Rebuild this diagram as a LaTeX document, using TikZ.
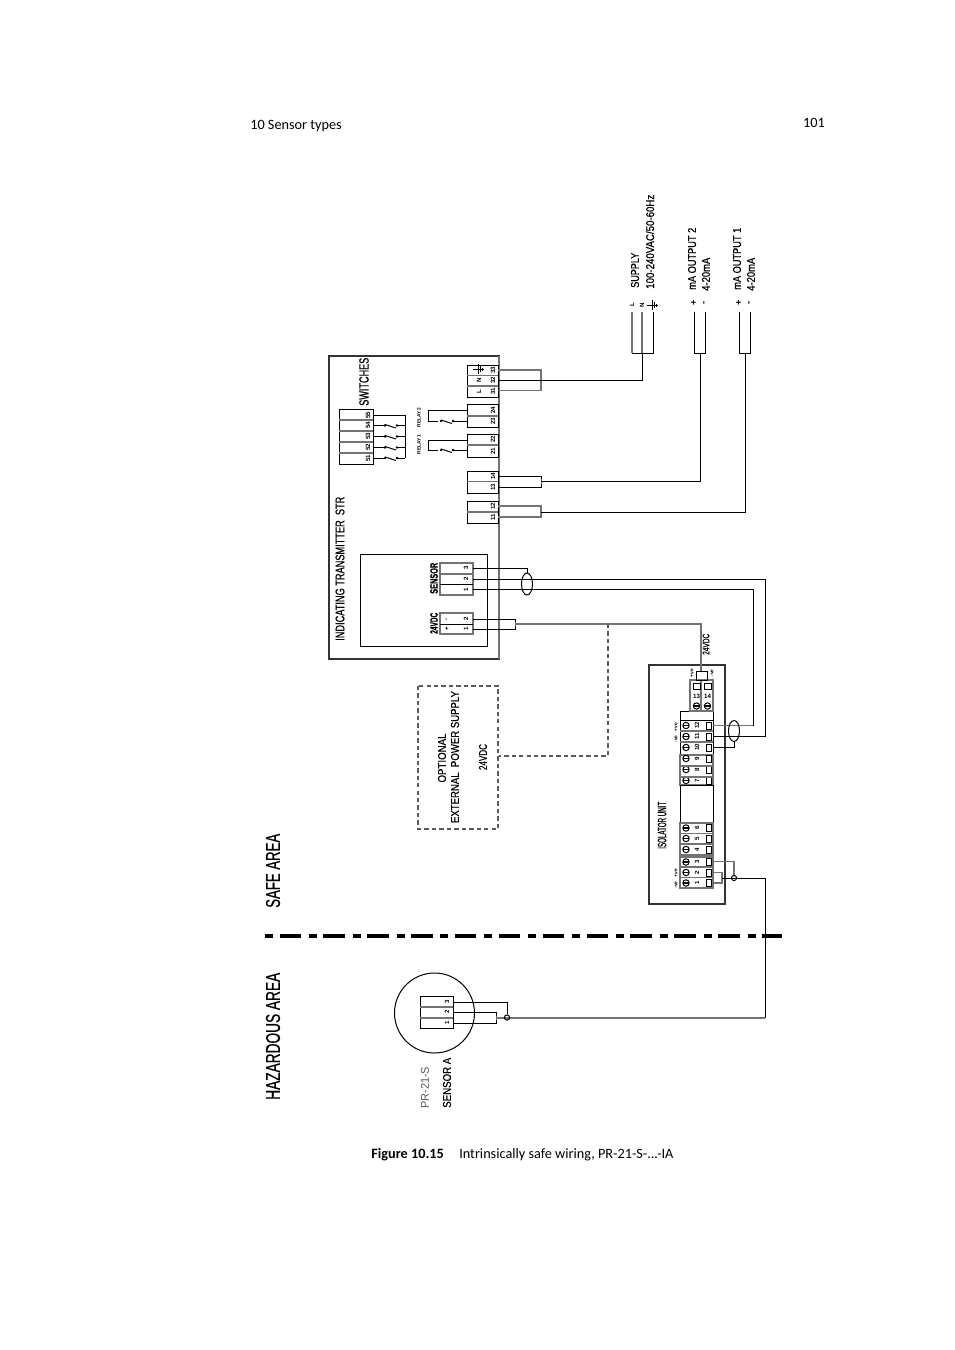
\documentclass[tikz,border=0pt]{standalone}
\usepackage{fontspec}
\usepackage{graphicx}
\setmainfont{Liberation Sans}
\newfontfamily\pagefont{Carlito}
\newfontfamily\dfont{Liberation Sans}[FakeBold=0.7]
\newlength\pxu \pxu=0.75pt
% text squeezed to a measured width in px: size(pt), width(px), text
\newcommand\fw[3]{\resizebox{#2\pxu}{\height}{\dfont\fontsize{#1}{#1}\selectfont #3}}
\tikzset{
  x=0.75pt,y=-0.75pt,
  wire/.style={line width=0.75pt,black},
  gwire/.style={line width=1.05pt,black!55},
  boxw/.style={line width=1pt,black!80},
  dashw/.style={line width=0.9pt,black!65,dash pattern=on 3.3pt off 2.3pt},
  zone/.style={line width=2.6pt,black,dash pattern=on 6pt off 4.9pt on 16.1pt off 5.9pt},
  rtxt/.style={rotate=90,anchor=west,inner sep=0pt,black},
  ctxt/.style={rotate=90,anchor=center,inner sep=0pt,black},
  tiny/.style={rotate=90,anchor=center,inner sep=0pt,font=\bfseries\fontsize{4.6}{5}\selectfont},
  page/.style={anchor=west,inner sep=0pt,font=\pagefont\fontsize{10.7}{12}\selectfont},
  dot/.style={circle,fill=black,inner sep=0pt,minimum size=2.8pt}
}
\newcommand\earthsym[2]{%
  \draw[wire] (#1-6,#2) -- (#1+5,#2);
  \draw[wire] (#1-1,#2-5) -- (#1-1,#2+5);
  \draw[wire] (#1+1,#2-3) -- (#1+1,#2+3);
  \draw[wire] (#1+3,#2-1.5) -- (#1+3,#2+1.5);}
\newcommand\contact[2]{%
  \node[dot,minimum size=2.2pt] at (#1,#2) {};
  \node[dot,minimum size=2.2pt] at (#1+12,#2) {};
  \draw[wire] (#1,#2-1) -- (#1+11,#2+2.5);}
\begin{document}
\begin{tikzpicture}
\useasboundingbox[fill=white] (0,0) rectangle (954,1350);

% page furniture
\node[page] (hdr) at (250,126) {10 Sensor types};
\node[page,anchor=east] (pg) at (825,123) {101};
\node[page] (capA) at (371,1155) {\textbf{Figure 10.15}};
\node[page] (capB) at (459,1155) {Intrinsically safe wiring, PR-21-S-...-IA};

% zone separation
\draw[zone] (265,936) -- (782,936);
\node[rtxt] (safe) at (273,908) {\fw{15}{74}{SAFE AREA}};
\node[rtxt] (haz) at (273,1100) {\fw{15}{127}{HAZARDOUS AREA}};

% ---- indicating transmitter
\draw[boxw] (329,356) rectangle (499,659);
\draw[gwire] (499,356) -- (499,659);
\draw[wire] (360,554) rectangle (487,646);
\node[rtxt] (itx) at (340,641) {\fw{9.5}{144}{INDICATING TRANSMITTER\ \ STR}};
\node[rtxt] (swt) at (364,406) {\fw{10}{48}{SWITCHES}};

% switches block
\draw[wire] (339,409) rectangle (373,464);
\foreach \y in {420,431,442,453} \draw[gwire] (339,\y) -- (373,\y);
\foreach \n/\y in {55/415,54/425.5,53/436.5,52/447.5,51/458.5}
  \node[tiny] at (368,\y) {\n};
\draw[wire] (373,415) -- (405,415) -- (405,458);
\foreach \y in {425.5,436.5,447.5,458}{
  \draw[wire] (373,\y) -- (385,\y);
  \contact{385}{\y}
  \draw[wire] (397,\y) -- (405,\y);
}
\node[tiny,font=\bfseries\fontsize{3.6}{4}\selectfont] at (419,417.5) {RELAY 2};
\node[tiny,font=\bfseries\fontsize{3.6}{4}\selectfont] at (419,444.5) {RELAY 1};

% supply terminal
\draw[wire] (467,365) rectangle (498,397);
\foreach \y in {375.5,386} \draw[gwire] (467,\y) -- (498,\y);
\foreach \n/\y in {33/370,32/380.5,31/391.5} \node[tiny] at (493,\y) {\n};
\earthsym{479}{369}
\node[tiny] at (479,380.5) {N};
\node[tiny] at (479,391.5) {L};
\coordinate (t33) at (498,370);
\coordinate (t32) at (498,380.5);
\coordinate (t31) at (498,390.5);
\coordinate (lnk3) at (541,380.5);
\draw[gwire] (t33) -| (lnk3) |- (t31);

% relay terminals
\draw[wire] (467,404) rectangle (498,427);
\draw[gwire] (467,416) -- (498,416);
\node[tiny] at (493,410) {24};
\node[tiny] at (493,421.5) {23};
\draw[wire] (467,410) -- (428,410) -- (428,421) -- (438,421);
\contact{441}{421}
\draw[wire] (453,421) -- (467,421);
\draw[wire] (467,434) rectangle (498,457);
\draw[gwire] (467,445) -- (498,445);
\node[tiny] at (493,439.5) {22};
\node[tiny] at (493,451) {21};
\draw[wire] (467,440) -- (428,440) -- (428,450) -- (438,450);
\contact{441}{450}
\draw[wire] (453,450) -- (467,450);

% mA terminals
\draw[wire] (467,471) rectangle (498,493);
\draw[gwire] (467,481.5) -- (498,481.5);
\node[tiny] at (493,476) {14};
\node[tiny] at (493,487) {13};
\coordinate (t14) at (498,476);
\coordinate (t13) at (498,487);
\coordinate (lnk2) at (541,481.5);
\draw[wire] (t14) -| (lnk2) |- (t13);
\draw[wire] (467,501) rectangle (498,523);
\draw[gwire] (467,512) -- (498,512);
\node[tiny] at (493,506.5) {12};
\node[tiny] at (493,517.5) {11};
\coordinate (t12) at (498,506);
\coordinate (t11) at (498,517);
\coordinate (lnk1) at (541,512);
\draw[gwire] (t12) -| (lnk1) |- (t11);

% sensor terminal of transmitter
\draw[gwire] (440,563) rectangle (473,595);
\draw[gwire] (440,574) -- (473,574);
\draw[wire] (440,584) -- (473,584);
\foreach \n/\y in {3/568,2/579,1/589.5} \node[tiny] at (466,\y) {\n};
\node[rtxt] (sens) at (434,594) {\fw{8}{31}{\textbf{SENSOR}}};
\coordinate (s3) at (473,568);
\coordinate (s2) at (473,579);
\coordinate (s1) at (473,589);
\draw[gwire] (440,613) rectangle (473,634);
\draw[wire] (440,624) -- (473,624);
\node[tiny] at (466,619) {2};
\node[tiny] at (466,629) {1};
\node[tiny] at (447,619) {-};
\node[tiny] at (447,629) {+};
\node[rtxt] (v24) at (434,634) {\fw{8}{21}{\textbf{24VDC}}};
\coordinate (p2) at (473,619);
\coordinate (p1) at (473,629);
\coordinate (lnkp) at (515,624);
\draw[wire] (p2) -| (lnkp) |- (p1);

% optional supply
\draw[dashw] (418,686) rectangle (498,829);
\node[ctxt] (opt1) at (442,758) {\fw{8.5}{49}{OPTIONAL}};
\node[ctxt] (opt2) at (455,757) {\fw{8.5}{132}{EXTERNAL\ \ POWER SUPPLY}};
\node[ctxt] (opt3) at (483,757) {\fw{8.5}{26}{24VDC}};

% ---- outputs
\coordinate (sup) at (642,353);
\draw[gwire] (632,312) -- (632,353);
\draw[gwire] (642,312) -- (642,353);
\draw[wire] (653,312) -- (653,353) -- (632,353);
\draw[wire] (t32) -- (642,380.5) -- (sup);
\node[tiny] at (632,305) {L};
\node[tiny] at (642,305) {N};
\earthsym{653}{305}
\node[rtxt] (sup1) at (635,288) {\fw{8.5}{35}{SUPPLY}};
\node[rtxt] (sup2) at (650,289) {\fw{8.5}{94}{100-240VAC/50-60Hz}};

\coordinate (o2) at (700,353);
\draw[wire] (694,312) -- (694,353) -- (705,353) -- (705,312);
\draw[wire] (lnk2) -| (o2);
\node[tiny,font=\bfseries\fontsize{7}{7}\selectfont] at (694,303) {+};
\node[tiny,font=\bfseries\fontsize{7}{7}\selectfont] at (705,303) {-};
\node[rtxt] (o2a) at (692,290) {\fw{8.5}{62}{mA OUTPUT 2}};
\node[rtxt] (o2b) at (706,291) {\fw{8.5}{33}{4-20mA}};

\coordinate (o1) at (745,353);
\draw[wire] (739,312) -- (739,353) -- (750,353) -- (750,312);
\draw[wire] (lnk1) -| (o1);
\node[tiny,font=\bfseries\fontsize{7}{7}\selectfont] at (739,303) {+};
\node[tiny,font=\bfseries\fontsize{7}{7}\selectfont] at (750,303) {-};
\node[rtxt] (o1a) at (737,290) {\fw{8.5}{62}{mA OUTPUT 1}};
\node[rtxt] (o1b) at (751,291) {\fw{8.5}{33}{4-20mA}};

% ---- isolator
\draw[boxw] (649,665) rectangle (725,904);
\node[rtxt] (iso) at (662,849) {\fw{9}{47}{ISOLATOR UNIT}};
\draw[wire] (680,711) rectangle (713,755);
\draw[wire] (680,720) -- (713,720);
\draw[gwire] (680,755) rectangle (713,785);
\draw[wire] (680,785) rectangle (713,823);
\draw[gwire] (680,823) rectangle (713,855);
\draw[gwire] (680,857) rectangle (713,888);
\foreach \n/\y in {12/725.5,11/736.5,10/747.5,9/758.5,8/769.5,7/780.5,6/828,5/838.5,4/849.5,3/862,2/872.5,1/883}{
  \draw[wire] (686,\y) circle[radius=3.2];
  \draw[line width=1pt] (683,\y) -- (689,\y);
  \draw[wire] (706,\y-3.5) rectangle (711,\y+3.5);
  \node[tiny] at (697,\y) {\n};
}
\foreach \y in {731,742,766,777} \draw[gwire] (680,\y) -- (713,\y);
\foreach \y in {833.5,844,867,877.5} \draw[gwire] (680,\y) -- (713,\y);
% top terminals
\draw[gwire] (690,680) rectangle (700.5,711);
\draw[gwire] (701.5,680) rectangle (713,711);
\foreach \n/\x in {13/696.5,14/707.5}{
  \draw[wire] (\x-3.5,683) rectangle (\x+3.5,689);
  \node[inner sep=0pt,font=\bfseries\fontsize{4.6}{5}\selectfont] at (\x,696) {\n};
  \draw[wire] (\x,706) circle[radius=3.2];
  \draw[line width=1pt] (\x-3,706) -- (\x+3,706);
}
\draw[wire] (696,671) rectangle (707,680);
\foreach \x/\y/\t in {692/673/{+ve},712/673/{-ve},676/727/{+ve},676/739/{-ve},676/873/{+ve},676/885/{-ve}}
  \node[tiny,font=\bfseries\fontsize{3.6}{4}\selectfont] at (\x,\y) {\t};
\node[rtxt] (iv) at (706,655) {\fw{7}{21}{24VDC}};

% isolator / transmitter wiring
\coordinate (i13) at (701,671);
\coordinate (i12) at (713,725.5);
\coordinate (i11) at (713,736.5);
\coordinate (i10) at (713,747.5);
\coordinate (i3) at (713,861.5);
\coordinate (i2) at (713,872.5);
\coordinate (i1) at (713,883);
\coordinate (lnki) at (722,878);
\coordinate (ret) at (765,1018);
\draw[gwire] (lnkp) -- (701,624) -- (i13);
\draw[dashw] (608,624) -- (608,756) -- (499,756);
\draw[wire] (s3) -- (527,568) -- (527,573);
\draw[wire] (527,584) ellipse[x radius=5.5,y radius=11];
\draw[wire] (s2) -- (765,579) -- (765,736.5) -- (i11);
\draw[wire] (s1) -- (753,589) -- (753,725.5);
\draw[gwire] (753,725.5) -- (i12);
\draw[wire] (734,731) ellipse[x radius=5.5,y radius=10.5];
\draw[wire] (i10) -- (734,747.5) -- (734,741.5);
% hazardous side
\draw[gwire] (i3) -- (734,861.5) -- (734,875);
\draw[gwire] (i2) -| (lnki) |- (i1);
\draw[wire] (lnki) -- (765,878) -- (ret);
\draw[wire] (734,878) circle[radius=2.6];

% ---- sensor
\draw[wire] (434.5,1013) circle[radius=40];
\draw[wire] (420,996) rectangle (453,1028);
\draw[gwire] (420,1007) -- (453,1007);
\draw[gwire] (420,1018) -- (453,1018);
\foreach \n/\y in {3/1001.5,2/1012,1/1023} \node[tiny] at (447,\y) {\n};
\coordinate (a3) at (453,1002);
\coordinate (a2) at (453,1012);
\coordinate (a1) at (453,1023);
\coordinate (lnka) at (496,1018);
\draw[wire] (a3) -- (507,1002) -- (507,1014);
\draw[wire] (a2) -| (lnka) |- (a1);
\draw[gwire] (lnka) -- (ret);
\draw[wire] (507,1017.5) circle[radius=2.6];
\node[rtxt,text=black!65] (pr) at (425,1109) {\resizebox{42\pxu}{\height}{\fontsize{8.5}{8.5}\selectfont PR-21-S}};
\node[rtxt] (sa) at (447,1108) {\fw{8.5}{50}{SENSOR A}};
\end{tikzpicture}
\end{document}
